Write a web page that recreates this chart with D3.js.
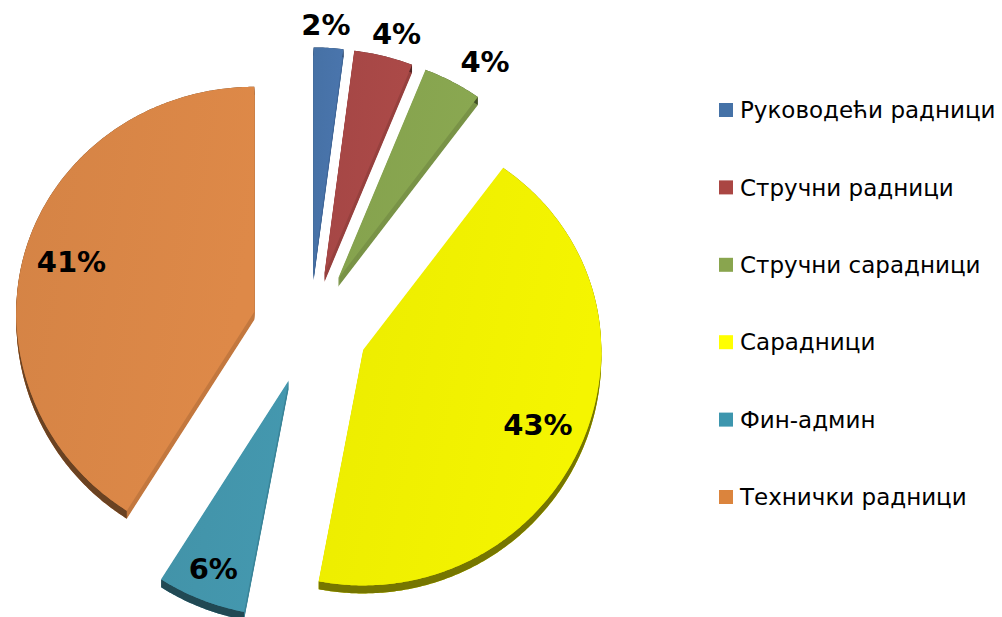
<!DOCTYPE html>
<html>
<head>
<meta charset="utf-8">
<script src="https://cdn.jsdelivr.net/npm/d3@7/dist/d3.min.js"></script>
<style>
  body { margin: 0; background: #fff; }
  text { font-family: "DejaVu Sans", Verdana, sans-serif; }
</style>
</head>
<body>
<svg id="chart" width="1002" height="617"></svg>
<script>
// Data
var categories = ["Руководећи радници", "Стручни радници", "Стручни сарадници", "Сарадници", "Фин-админ", "Технички радници"];
var shares = [2, 4, 4, 43, 6, 41];
var shareLabels = ["2%", "4%", "4%", "43%", "6%", "41%"];

// Palette (top face colours)
var palette = ["#4873a9", "#a84846", "#87a44f", "#f0f000", "#4395ab", "#d98646"];
var legendColors = ["#4572a7", "#aa4643", "#89a54e", "#ffff00", "#3d96ae", "#db843d"];

var svg = d3.select("#chart");
var cx = 310, cy = 327, R = 238, kUp = 0.945, kDown = 0.99, explode = 58, depth = 8;

// tilted pie: angle measured clockwise from 12 o'clock
function proj(a, r, ox, oy) {
  var c = Math.cos(a);
  return [ox + r * Math.sin(a), oy - r * c * (c > 0 ? kUp : kDown)];
}

var arcs = d3.pie().sort(null).value(function (d) { return d; })(shares);
var line = d3.line();

var defs = svg.append("defs");
var pieG = svg.append("g");

arcs.forEach(function (d, i) {
  var mid = (d.startAngle + d.endAngle) / 2;
  var o = proj(mid, explode, cx, cy);
  var n = Math.max(4, Math.ceil((d.endAngle - d.startAngle) / 0.01));
  var rim = d3.range(n + 1).map(function (j) {
    var a = d.startAngle + (d.endAngle - d.startAngle) * j / n;
    return proj(a, R, o[0], o[1]);
  });
  var dPath = line([o].concat(rim)) + "Z";
  var sideLight = d3.color(palette[i]).darker(0.3).formatHex();
  var sideDark = d3.color(palette[i]).darker(2).formatHex();

  var g = pieG.append("g");
  // extrusion (radial faces)
  d3.range(depth, 0, -1).forEach(function (k) {
    g.append("path").attr("d", dPath).attr("transform", "translate(0," + k + ")")
      .attr("fill", sideLight);
  });
  // outer rim face
  var band = rim.concat(rim.slice().reverse().map(function (p) { return [p[0], p[1] + depth]; }));
  g.append("path").attr("d", line(band) + "Z").attr("fill", sideDark);

  var gid = "grad" + i;
  var grad = defs.append("linearGradient").attr("id", gid)
    .attr("x1", "0%").attr("y1", "0%").attr("x2", "100%").attr("y2", "30%");
  grad.append("stop").attr("offset", "0%").attr("stop-color", d3.color(palette[i]).darker(0.06).formatHex());
  grad.append("stop").attr("offset", "100%").attr("stop-color", d3.color(palette[i]).brighter(0.06).formatHex());
  g.append("path").attr("d", dPath).attr("fill", "url(#" + gid + ")");
});

// Data labels
var labelSize = 29;
arcs.forEach(function (d, i) {
  var mid = (d.startAngle + d.endAngle) / 2;
  var o = proj(mid, explode, cx, cy);
  var pos;
  if (d.value < 5) {
    // outside label, box pushed out from the label radius
    var p = proj(mid, R + 14, o[0], o[1]);
    var w = 70, h = 28;
    pos = [p[0] + w * Math.sin(mid) - 8, p[1] - h / 2 * Math.cos(mid) + 4];
  } else {
    pos = proj(mid, R * (d.value < 10 ? 0.86 : 0.8), o[0], o[1]);
  }
  svg.append("text")
    .attr("x", pos[0]).attr("y", pos[1])
    .attr("text-anchor", "middle").attr("dy", "0.36em")
    .attr("font-size", labelSize).attr("font-weight", "bold").attr("fill", "#000")
    .text(shareLabels[i]);
});

// Legend
var ly = d3.scalePoint().domain(categories).range([110, 497]);
var legend = svg.append("g").selectAll("g").data(categories).join("g")
  .attr("transform", function (d) { return "translate(719," + ly(d) + ")"; });
legend.append("rect").attr("x", 0).attr("y", -7).attr("width", 14).attr("height", 14)
  .attr("fill", function (d, i) { return legendColors[i]; });
legend.append("text").attr("x", 21).attr("dy", "0.36em")
  .attr("font-size", 23).attr("fill", "#000")
  .text(function (d) { return d; });
</script>
</body>
</html>
